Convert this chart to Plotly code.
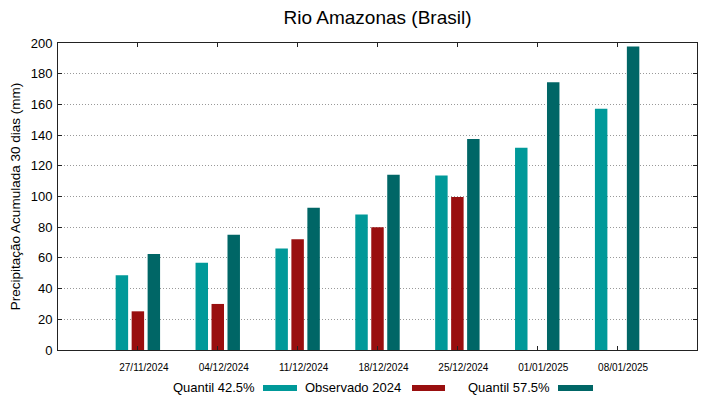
import plotly.graph_objects as go

dates = ["27/11/2024", "04/12/2024", "11/12/2024", "18/12/2024", "25/12/2024", "01/01/2025", "08/01/2025"]
q425 = [48.7, 56.9, 66.2, 88.2, 113.6, 131.8, 157.2]
obs2024 = [25.2, 30.0, 72.1, 79.9, 99.7, None, None]
q575 = [62.5, 75.1, 92.7, 114.2, 137.5, 174.4, 197.8]
series_names = ["Quantil 42.5%", "Observado 2024", "Quantil 57.5%"]
colors = ["#009999", "#990f0f", "#006666"]
yticks = [0, 20, 40, 60, 80, 100, 120, 140, 160, 180, 200]

xpos = list(range(len(dates)))
fig = go.Figure()
for name, vals, col in zip(series_names, [q425, obs2024, q575], colors):
    fig.add_trace(go.Bar(x=xpos, y=vals, name=name, marker=dict(color=col, line=dict(width=0)),
                         showlegend=False))

font = "Liberation Sans, Arial, sans-serif"
W, H = 719, 399
ML, MR, MT, MB = 58, 22, 43, 49
fig.update_layout(
    width=W, height=H,
    margin=dict(l=ML, r=MR, t=MT, b=MB, autoexpand=False),
    paper_bgcolor="white", plot_bgcolor="white",
    barmode="group", bargap=0.4, bargroupgap=0.22,
    font=dict(family=font, color="#000"),
    title=dict(text="Rio Amazonas (Brasil)", x=(377.5) / W, xanchor="center",
               y=1 - 17 / H, yanchor="middle",
               font=dict(size=19, family=font, color="#000")),
)
fig.update_xaxes(
    range=[-1, 7], tickvals=xpos, ticktext=dates,
    ticks="inside", ticklen=4, tickcolor="#222", mirror="ticks",
    showline=True, linecolor="#222", linewidth=1,
    showgrid=False, zeroline=False, automargin=False,
    tickfont=dict(size=10, family=font, color="#000"),
    ticklabelshift=6, ticklabelstandoff=8,
)
fig.update_yaxes(
    range=[0, 200], tickvals=yticks,
    ticks="inside", ticklen=4, tickcolor="#222", mirror="ticks",
    showline=True, linecolor="#222", linewidth=1,
    showgrid=True, gridcolor="#999999", griddash="1px,2px", gridwidth=1,
    zeroline=False, automargin=False,
    tickfont=dict(size=13, family=font, color="#000"),
    ticklabelstandoff=2,
    title=dict(text="Precipitação Acumulada 30 dias (mm)", font=dict(size=13.5, family=font, color="#000"),
               standoff=6),
)

# legend drawn gnuplot-style: label text then swatch
leg_text_right = [257, 403, 552]
leg_swatch = [(263, 297), (412, 445), (558, 593)]
pw, ph = W - ML - MR, H - MT - MB
for name, col, tr, (s0, s1) in zip(series_names, colors, leg_text_right, leg_swatch):
    fig.add_annotation(text=name, xref="paper", yref="paper",
                       x=(tr - ML) / pw, y=(H - MB - 387) / ph,
                       xanchor="right", yanchor="middle", showarrow=False,
                       font=dict(size=13, family=font, color="#000"))
    fig.add_shape(type="rect", xref="paper", yref="paper",
                  x0=(s0 - ML) / pw, x1=(s1 - ML) / pw,
                  y0=(H - MB - 391) / ph, y1=(H - MB - 385) / ph,
                  fillcolor=col, line=dict(width=0))

fig.write_html("out.html", config={"displayModeBar": False},
               post_script="document.body.style.margin='0';document.body.style.overflow='hidden';")
